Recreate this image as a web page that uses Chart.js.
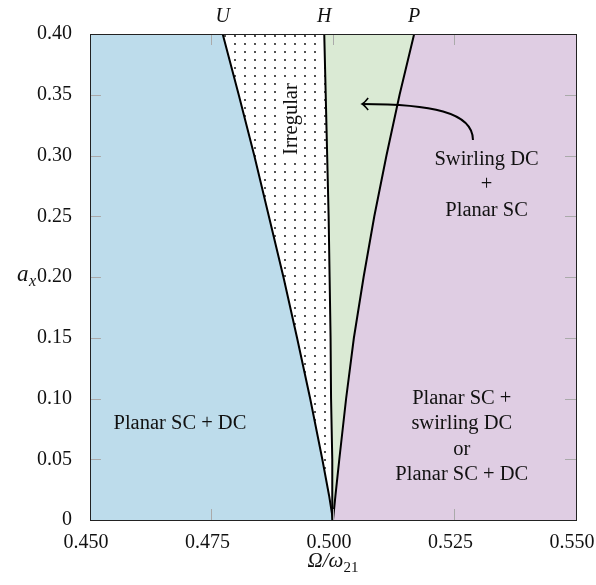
<!DOCTYPE html>
<html>
<head>
<meta charset="utf-8">
<script src="https://cdn.jsdelivr.net/npm/chart.js@4.4.0/dist/chart.umd.min.js"></script>
<style>
  html, body { margin: 0; padding: 0; background: #fff; }
  #wrap { width: 596px; height: 585px; }
</style>
</head>
<body>
<div id="wrap"><canvas id="myChart"></canvas></div>
<script>
// amplitude a_x where the boundaries were read
const ax = [0, 0.02, 0.05, 0.1, 0.15, 0.2, 0.25, 0.3, 0.35, 0.4];
// Omega/omega21 of each boundary at those a_x
const curveU = [0.5, 0.4992, 0.4978, 0.4953, 0.4926, 0.4898, 0.4868, 0.4838, 0.4806, 0.4773];
const curveH = [0.5, 0.4999, 0.4998, 0.4996, 0.4995, 0.4993, 0.4991, 0.4988, 0.4985, 0.4982];
const curveP = [0.5, 0.5005, 0.5013, 0.5027, 0.5043, 0.5063, 0.5085, 0.5110, 0.5137, 0.5167];
const curveNames = ["U", "H", "P"];

const xTicks = [0.450, 0.475, 0.500, 0.525, 0.550];
const yTicks = [0, 0.05, 0.10, 0.15, 0.20, 0.25, 0.30, 0.35, 0.40];

// region labels: [x, a_x, lines]
const regionLabels = [
   [0.4685, 0.079, ["Planar SC + DC"]],
   [0.5265, 0.037, ["Planar SC +", "swirling DC", "or", "Planar SC + DC"]],
   [0.5316, 0.255, ["Swirling DC", "+", "Planar SC"]],
];
const irregularLabel = [0.4914, 0.330, "Irregular"];
// arrow: start, control 1, control 2, end
const arrowPts = [[0.5288, 0.3128], [0.5288, 0.3358], [0.5200, 0.3424], [0.5060, 0.3424]];

const serif = "'Liberation Serif', 'DejaVu Serif', serif";
const pts = (xs) => xs.map((x, i) => ({ x: x, y: ax[i] }));
const rev = (arr) => arr.slice().reverse();

// dotted pattern for the irregular region
const pc = document.createElement("canvas");
pc.width = 10; pc.height = 8;
const pctx = pc.getContext("2d");
pctx.fillStyle = "#fff";
pctx.fillRect(0, 0, 10, 8);
pctx.fillStyle = "#000";
pctx.beginPath();
pctx.arc(5, 4, 0.9, 0, Math.PI * 2);
pctx.fill();
const dots = pctx.createPattern(pc, "repeat");

const area = (data, color) => ({
   data: data,
   showLine: true,
   fill: "shape",
   backgroundColor: color,
   borderWidth: 0,
   pointRadius: 0,
   order: 2,
});
const edge = (xs) => ({
   data: pts(xs),
   showLine: true,
   fill: false,
   borderColor: "#000",
   borderWidth: 2,
   borderJoinStyle: "round",
   pointRadius: 0,
   order: 0,
});

const decor = {
   id: "decor",
   afterDatasetsDraw(chart) {
      const c = chart.ctx;
      const xs = chart.scales.x, ys = chart.scales.y;
      const { left, right, top, bottom } = chart.chartArea;
      c.save();
      // inner ticks
      c.strokeStyle = "#aaa";
      c.lineWidth = 1;
      c.beginPath();
      xTicks.forEach((v) => {
         const px = Math.round(xs.getPixelForValue(v)) + 0.5;
         c.moveTo(px, bottom); c.lineTo(px, bottom - 11);
         c.moveTo(px, top); c.lineTo(px, top + 11);
      });
      yTicks.forEach((v) => {
         const py = Math.round(ys.getPixelForValue(v)) + 0.5;
         c.moveTo(left, py); c.lineTo(left + 11, py);
         c.moveTo(right, py); c.lineTo(right - 11, py);
      });
      c.stroke();
      // frame
      c.strokeStyle = "#222";
      c.strokeRect(Math.round(left) + 0.5, Math.round(top) + 0.5, Math.round(right - left), Math.round(bottom - top));

      // arrow
      const P = arrowPts.map((p) => [xs.getPixelForValue(p[0]), ys.getPixelForValue(p[1])]);
      c.strokeStyle = "#000";
      c.lineWidth = 2;
      c.beginPath();
      c.moveTo(P[0][0], P[0][1]);
      c.bezierCurveTo(P[1][0], P[1][1], P[2][0], P[2][1], P[3][0], P[3][1]);
      c.stroke();
      c.lineWidth = 1.6;
      c.beginPath();
      c.moveTo(P[3][0] + 6, P[3][1] - 6);
      c.quadraticCurveTo(P[3][0] + 2, P[3][1] - 1, P[3][0], P[3][1]);
      c.quadraticCurveTo(P[3][0] + 2, P[3][1] + 1, P[3][0] + 6, P[3][1] + 6);
      c.stroke();

      // text
      c.fillStyle = "#111";
      c.textAlign = "center";
      c.textBaseline = "middle";
      c.font = "20.5px " + serif;
      regionLabels.forEach(([x, y, lines]) => {
         const px = xs.getPixelForValue(x), py = ys.getPixelForValue(y);
         const n = lines.length;
         lines.forEach((t, i) => c.fillText(t, px, py - (n - 1 - i) * 25.5));
      });
      c.save();
      c.translate(xs.getPixelForValue(irregularLabel[0]), ys.getPixelForValue(irregularLabel[1]));
      c.rotate(-Math.PI / 2);
      const wIrr = c.measureText(irregularLabel[2]).width;
      c.fillStyle = "#fff";
      c.fillRect(-wIrr / 2 - 3, -10, wIrr + 6, 19);
      c.fillStyle = "#111";
      c.fillText(irregularLabel[2], 0, 0);
      c.restore();

      // curve names above the frame
      c.font = "italic 20px " + serif;
      [curveU, curveH, curveP].forEach((cv, i) => {
         c.fillText(curveNames[i], xs.getPixelForValue(cv[cv.length - 1]), top - 17);
      });

      // axis titles
      c.font = "italic 21px " + serif;
      c.textAlign = "left";
      c.textBaseline = "alphabetic";
      const cx = (left + right) / 2;
      const main = "\u03A9/\u03C9";
      const wMain = c.measureText(main).width;
      c.font = "15px " + serif;
      const wSub = c.measureText("21").width;
      const x0 = cx - (wMain + wSub) / 2;
      c.font = "italic 21px " + serif;
      c.fillText(main, x0, 567);
      c.font = "15px " + serif;
      c.fillText("21", x0 + wMain, 572);
      const ay = ys.getPixelForValue(0.2);
      c.font = "italic 23px " + serif;
      c.fillText("a", 17, ay + 4);
      c.font = "italic 16px " + serif;
      c.fillText("x", 29, ay + 9);
      c.restore();
   },
};

new Chart(document.getElementById("myChart"), {
   type: "scatter",
   data: {
      datasets: [
         edge(curveU),
         edge(curveH),
         edge(curveP),
         area([{ x: 0.45, y: 0 }, ...pts(curveU), { x: 0.45, y: 0.4 }], "rgb(189, 220, 235)"),
         area([...pts(curveU), ...rev(pts(curveH))], dots),
         area([...pts(curveH), ...rev(pts(curveP))], "rgb(218, 234, 212)"),
         area([...pts(curveP), { x: 0.55, y: 0.4 }, { x: 0.55, y: 0 }], "rgb(223, 205, 227)"),
      ],
   },
   options: {
      animation: false,
      responsive: true,
      maintainAspectRatio: false,
      layout: { padding: { left: 0, right: 20, top: 34, bottom: 0 } },
      plugins: {
         legend: { display: false },
         tooltip: { enabled: false },
      },
      scales: {
         x: {
            type: "linear",
            min: 0.45,
            max: 0.55,
            afterFit: (s) => { s.height = 65; s.paddingLeft = 0; s.paddingRight = 0; },
            afterBuildTicks: (s) => { s.ticks = xTicks.map((v) => ({ value: v })); },
            ticks: {
               padding: 3,
               labelOffset: -4,
               color: "#111",
               font: { family: serif, size: 20 },
               callback: (v) => v.toFixed(3),
            },
            grid: { display: false },
            border: { display: false },
         },
         y: {
            type: "linear",
            min: 0,
            max: 0.4,
            afterFit: (s) => { s.width = 90; s.paddingTop = 0; s.paddingBottom = 0; },
            afterBuildTicks: (s) => { s.ticks = yTicks.map((v) => ({ value: v })); },
            ticks: {
               padding: 10,
               color: "#111",
               font: { family: serif, size: 20 },
               callback: (v) => (v === 0 ? "0" : v.toFixed(2)),
            },
            grid: { display: false },
            border: { display: false },
         },
      },
   },
   plugins: [decor],
});
</script>
</body>
</html>
